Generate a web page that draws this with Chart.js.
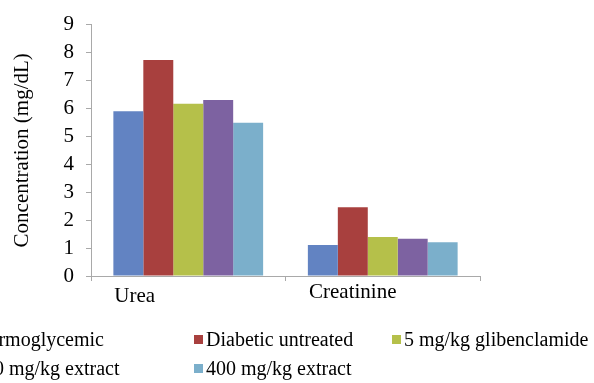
<!DOCTYPE html>
<html>
<head>
<meta charset="utf-8">
<title>Urea and creatinine</title>
<script src="https://cdn.jsdelivr.net/npm/chart.js@4/dist/chart.umd.min.js"></script>
<style>
  html, body { margin: 0; padding: 0; background: #fff; overflow: hidden; width: 594px; height: 383px; }
  #wrap { position: relative; width: 594px; height: 383px; overflow: hidden; }
  canvas { position: absolute; left: 0; top: 0; }
  #legend {
    position: absolute; left: -38px; top: 325px;
    display: grid; grid-template-columns: 232px 198px auto; grid-auto-rows: 29px;
    font: 20px "Liberation Serif", "Times New Roman", serif; color: #000; white-space: nowrap;
  }
  #legend .item { display: flex; align-items: center; }
  #legend .box { width: 9px; height: 9px; margin-right: 3px; flex: none; }
</style>
</head>
<body>
<div id="wrap">
  <canvas id="chart" width="594" height="383"></canvas>
  <div id="legend"></div>
</div>
<script>
// Serum markers per treatment group (mg/dL)
const categories = ['Urea', 'Creatinine'];
const groupNames = ['Normoglycemic', 'Diabetic untreated', '5 mg/kg glibenclamide', '200 mg/kg extract', '400 mg/kg extract'];
const normoglycemic = [5.90, 1.11];
const diabeticUntreated = [7.73, 2.46];
const glibenclamide5 = [6.17, 1.40];
const extract200 = [6.30, 1.33];
const extract400 = [5.49, 1.21];
const yTicks = [0, 1, 2, 3, 4, 5, 6, 7, 8, 9];

const groupColors = ['#6283c2', '#a8403e', '#b5c04a', '#7d62a1', '#7bafcb'];
const seriesValues = [normoglycemic, diabeticUntreated, glibenclamide5, extract200, extract400];

const FONT = '"Liberation Serif", "Times New Roman", serif';
const AXIS_GREY = '#a9a9a9';

// Category names under the x axis, nudged per label
const categoryLabels = {
  id: 'categoryLabels',
  afterDraw(chart) {
    const xs = chart.scales.x;
    const ctx = chart.ctx;
    const nudge = [[-53.5, 26], [-30, 22]];
    ctx.save();
    ctx.font = '21px ' + FONT;
    ctx.fillStyle = '#000';
    ctx.textAlign = 'center';
    ctx.textBaseline = 'alphabetic';
    categories.forEach((c, i) => {
      ctx.fillText(c, xs.getPixelForTick(i) + nudge[i][0], chart.chartArea.bottom + nudge[i][1]);
    });
    ctx.restore();
  }
};

// Legend laid out as a grid below the plot
const htmlLegend = {
  id: 'htmlLegend',
  afterUpdate(chart) {
    const el = document.getElementById('legend');
    el.innerHTML = '';
    chart.data.datasets.forEach(ds => {
      const item = document.createElement('div');
      item.className = 'item';
      const box = document.createElement('span');
      box.className = 'box';
      box.style.background = ds.backgroundColor;
      const txt = document.createElement('span');
      txt.textContent = ds.label;
      item.appendChild(box);
      item.appendChild(txt);
      el.appendChild(item);
    });
  }
};

new Chart(document.getElementById('chart'), {
  type: 'bar',
  data: {
    labels: categories,
    datasets: groupNames.map((name, i) => ({
      label: name,
      data: seriesValues[i],
      backgroundColor: groupColors[i],
      borderWidth: 0,
      categoryPercentage: 0.77,
      barPercentage: 1.0
    }))
  },
  options: {
    responsive: false,
    animation: false,
    devicePixelRatio: 1,
    events: [],
    layout: { padding: { left: 0, top: 14, right: 114, bottom: 0 } },
    plugins: {
      legend: { display: false },
      tooltip: { enabled: false }
    },
    scales: {
      x: {
        offset: true,
        ticks: { display: false },
        grid: { offset: true, drawOnChartArea: false, drawTicks: true, tickLength: 5, color: AXIS_GREY },
        border: { display: true, color: AXIS_GREY, width: 1 },
        afterFit(scale) { scale.height = 107; }
      },
      y: {
        min: 0,
        max: 9,
        afterBuildTicks(scale) { scale.ticks = yTicks.map(v => ({ value: v })); },
        ticks: {
          autoSkip: false,
          padding: 12,
          color: '#000',
          font: { family: FONT, size: 21 }
        },
        grid: { drawOnChartArea: false, drawTicks: true, tickLength: 5, color: AXIS_GREY },
        border: { display: true, color: AXIS_GREY, width: 1 },
        title: {
          display: true,
          text: 'Concentration (mg/dL)',
          color: '#000',
          font: { family: FONT, size: 21 },
          padding: { top: 10, bottom: 0 }
        },
        afterFit(scale) { scale.width = 91; }
      }
    }
  },
  plugins: [categoryLabels, htmlLegend]
});
</script>
</body>
</html>
